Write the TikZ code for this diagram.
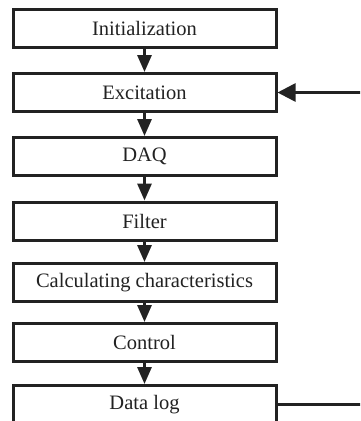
\documentclass[tikz,border=0pt]{standalone}
\usepackage{fontspec}
\setmainfont{Liberation Serif}
\usetikzlibrary{arrows.meta}
\definecolor{ink}{HTML}{222222}
\begin{document}
\begin{tikzpicture}[x=1pt,y=-1pt,
  stepbox/.style={draw=ink, line width=3pt, fill=white, minimum width=263pt, minimum height=38pt, inner sep=0pt, text=ink, font=\fontsize{20.5}{22}\selectfont},
  flow/.style={draw=ink, line width=3pt, -{Triangle[length=17pt,width=14pt]}},
  back/.style={draw=ink, line width=2.6pt, -{Triangle[length=18pt,width=18pt]}}]
\useasboundingbox (0,0) rectangle (360,421);
\clip (0,0) rectangle (360,421);
\node[stepbox] (init) at (144.5,28.5) {Initialization};
\node[stepbox] (exc) at (144.5,92.5) {Excitation};
\node[stepbox] (daq) at (144.5,156.5) {DAQ};
\node[stepbox] (filt) at (144.5,221) {Filter};
\node[stepbox] (calc) at (144.5,282.5) {Calculating characteristics};
\node[stepbox] (ctrl) at (144.5,342.5) {Control};
\node[stepbox] (log) at (144.5,404.5) {Data log};
\coordinate (c1) at (372,404.5);
\coordinate (c2) at (372,92.5);
\draw[flow] (init) -- (exc);
\draw[flow] (exc) -- (daq);
\draw[flow] (daq) -- (filt);
\draw[flow] (filt) -- (calc);
\draw[flow] (calc) -- (ctrl);
\draw[flow] (ctrl) -- (log);
\draw[back] (log.east) -- (c1) -- (c2) -- (exc.east);
\end{tikzpicture}
\end{document}
